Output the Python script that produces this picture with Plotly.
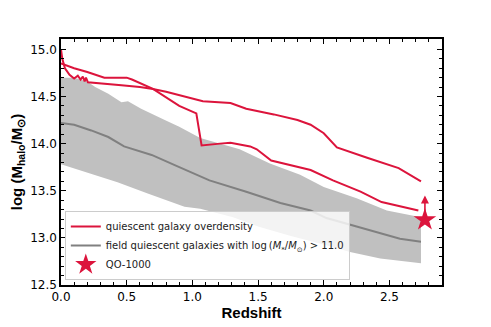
import plotly.graph_objects as go

# red overdensity tracks (two realisations)
z_red_a = [0.0, 0.01, 0.03, 0.065, 0.10, 0.128, 0.149, 0.166, 0.18, 0.19, 0.205,
           0.30, 0.46, 0.60, 0.70, 0.80, 0.94, 1.08, 1.29, 1.41, 1.62, 1.80,
           1.90, 2.00, 2.10, 2.20, 2.33, 2.57, 2.74]
m_red_a = [15.0, 14.90, 14.80, 14.73, 14.69, 14.72, 14.68, 14.71, 14.66, 14.70, 14.65,
           14.64, 14.62, 14.60, 14.58, 14.55, 14.50, 14.45, 14.43, 14.37, 14.31, 14.25,
           14.20, 14.11, 13.96, 13.91, 13.85, 13.74, 13.60]

z_red_b = [0.0, 0.10, 0.20, 0.33, 0.50, 0.54, 0.70, 0.80, 0.90, 1.03, 1.07, 1.21,
           1.29, 1.44, 1.49, 1.60, 1.82, 1.90, 2.07, 2.28, 2.44, 2.72]
m_red_b = [14.85, 14.80, 14.76, 14.70, 14.70, 14.68, 14.58, 14.49, 14.40, 14.32, 13.98, 14.00,
           14.01, 13.97, 13.94, 13.82, 13.75, 13.72, 13.61, 13.49, 13.38, 13.29]

# field quiescent galaxies: median and band
z_med = [0.0, 0.10, 0.23, 0.36, 0.48, 0.69, 0.87, 1.13, 1.41, 1.67, 1.90,
         2.02, 2.25, 2.43, 2.58, 2.74]
m_med = [14.22, 14.20, 14.14, 14.07, 13.97, 13.88, 13.77, 13.61, 13.49, 13.37, 13.29,
         13.21, 13.12, 13.05, 12.99, 12.96]

z_hi = [0.0, 0.10, 0.20, 0.26, 0.36, 0.46, 0.51, 0.61, 0.79, 0.90, 1.06, 1.36,
        1.59, 1.82, 2.00, 2.25, 2.48, 2.74]
m_hi = [14.70, 14.70, 14.66, 14.60, 14.53, 14.44, 14.45, 14.37, 14.25, 14.18, 14.06, 13.94,
        13.79, 13.67, 13.54, 13.42, 13.29, 13.22]

z_lo = [0.0, 0.23, 0.43, 0.66, 0.94, 1.06, 1.31, 1.50, 1.75, 2.00, 2.20, 2.43, 2.74]
m_lo = [13.78, 13.68, 13.59, 13.47, 13.33, 13.31, 13.22, 13.12, 13.02, 12.93, 12.85, 12.78, 12.73]

# QO-1000 lower limit
qo_z = 2.77
qo_m = 13.19
qo_arrow_tip = 13.45

RED = '#DC143C'
GRAY = '#808080'

fig = go.Figure()

fig.add_trace(go.Scatter(x=z_lo, y=m_lo, mode='lines', line=dict(width=0),
                         showlegend=False, hoverinfo='skip'))
fig.add_trace(go.Scatter(x=z_hi, y=m_hi, mode='lines', line=dict(width=0),
                         fill='tonexty', fillcolor='rgba(192,192,192,1)',
                         showlegend=False, hoverinfo='skip'))

fig.add_trace(go.Scatter(x=z_red_a, y=m_red_a, mode='lines', name='quiescent galaxy overdensity',
                         line=dict(color=RED, width=2), legendgroup='red'))
fig.add_trace(go.Scatter(x=z_red_b, y=m_red_b, mode='lines', showlegend=False,
                         line=dict(color=RED, width=2), legendgroup='red'))

fig.add_trace(go.Scatter(
    x=z_med, y=m_med, mode='lines',
    name='field quiescent galaxies with log\u2009(<i>M</i><sub>*</sub>/<i>M</i><sub>\u2299</sub>) > 11.0',
    line=dict(color=GRAY, width=2)))

fig.add_trace(go.Scatter(x=[qo_z], y=[qo_m], mode='markers', name='QO-1000',
                         marker=dict(symbol='star', size=17, color=RED)))

fig.add_annotation(x=qo_z, y=qo_arrow_tip, ax=qo_z, ay=qo_m, xref='x', yref='y',
                   axref='x', ayref='y', showarrow=True, arrowhead=2, arrowsize=1,
                   arrowwidth=1.6, arrowcolor=RED, text='')

axis_common = dict(
    showline=True, linecolor='black', linewidth=1.5, mirror='allticks',
    ticks='inside', ticklen=5, tickwidth=1.2, tickcolor='black',
    showgrid=False, zeroline=False, tickformat='.1f', automargin=False,
    tickfont=dict(family='DejaVu Sans', size=12, color='black'),
    minor=dict(ticks='inside', ticklen=3, tickwidth=1, tickcolor='black', dtick=0.1),
)

fig.update_layout(
    width=491, height=327,
    margin=dict(l=61, r=49, t=39, b=42),
    plot_bgcolor='white', paper_bgcolor='white',
    xaxis=dict(range=[0, 2.9], dtick=0.5,
               title=dict(text='<b>Redshift</b>', standoff=4,
                          font=dict(family='Liberation Sans', size=15, color='black')),
               **axis_common),
    yaxis=dict(range=[12.5, 15.11], dtick=0.5,
               title=dict(text='<b>log (M<sub>halo</sub>/M<sub>\u2299</sub>)</b>', standoff=4,
                          font=dict(family='Liberation Sans', size=15, color='black')),
               **axis_common),
    legend=dict(x=0.01, y=0.02, xanchor='left', yanchor='bottom',
                bgcolor='rgba(255,255,255,0.8)', bordercolor='#cccccc', borderwidth=1,
                font=dict(family='DejaVu Sans', size=10, color='#222222'),
                tracegroupgap=0, itemwidth=30),
    showlegend=True,
)

fig.write_html("out.html", config={'displayModeBar': False},
               post_script="document.body.style.margin='0';")
